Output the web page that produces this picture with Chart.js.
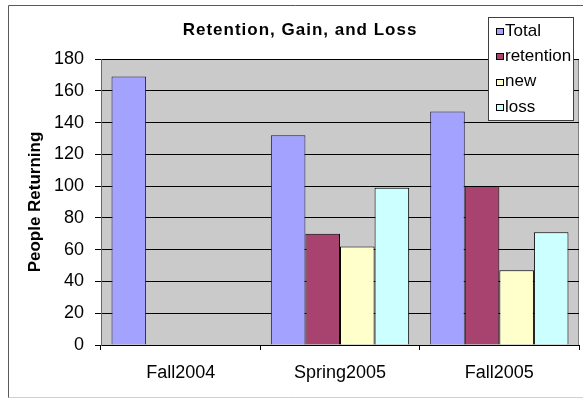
<!DOCTYPE html>
<html>
<head>
<meta charset="utf-8">
<script src="https://cdn.jsdelivr.net/npm/chart.js@4/dist/chart.umd.min.js"></script>
<style>
  html, body { margin: 0; padding: 0; background: #fff; }
  #wrap { width: 583px; height: 400px; position: relative; }
</style>
</head>
<body>
<div id="wrap"><canvas id="c" width="583" height="400"></canvas></div>
<script>
const categories = ['Fall2004', 'Spring2005', 'Fall2005'];
const seriesNames = ['Total', 'retention', 'new', 'loss'];
const totalValues = [169, 132, 147];
const retentionValues = [null, 70, 100];
const newValues = [null, 62, 47];
const lossValues = [null, 99, 71];
const yTicks = [0, 20, 40, 60, 80, 100, 120, 140, 160, 180];
const chartTitle = 'Retention, Gain, and Loss';
const yAxisTitle = 'People Returning';

const FONT = "'Liberation Sans', Arial, Helvetica, sans-serif";
const colors = ['#A3A3FF', '#A8426F', '#FFFFCC', '#CCFFFF'];
const borders = ['#1a1a40', '#000000', '#000000', '#000000'];
const values = [totalValues, retentionValues, newValues, lossValues];

const frameAndBg = {
  id: 'frameAndBg',
  beforeDraw(chart) {
    const ctx = chart.ctx, a = chart.chartArea;
    ctx.save();
    ctx.fillStyle = '#ffffff';
    ctx.fillRect(0, 0, chart.width, chart.height);
    // outer frame
    ctx.strokeStyle = '#5a5a5a';
    ctx.lineWidth = 1;
    ctx.beginPath();
    ctx.moveTo(8.5, 398);
    ctx.lineTo(8.5, 5.5);
    ctx.lineTo(chart.width, 5.5);
    ctx.stroke();
    ctx.strokeStyle = '#d0d0d0';
    ctx.beginPath();
    ctx.moveTo(8.5, 397.5);
    ctx.lineTo(chart.width, 397.5);
    ctx.stroke();
    // plot area
    ctx.fillStyle = '#CACACA';
    ctx.fillRect(a.left, a.top, a.right - a.left, a.bottom - a.top);
    ctx.strokeStyle = '#808080';
    ctx.beginPath();
    ctx.moveTo(a.right - 0.5, a.top);
    ctx.lineTo(a.right - 0.5, a.bottom);
    ctx.stroke();
    ctx.restore();
  },
  afterDraw(chart) {
    const ctx = chart.ctx;
    ctx.save();
    // title
    ctx.fillStyle = '#000';
    ctx.font = 'bold 17px ' + FONT;
    if ('letterSpacing' in ctx) ctx.letterSpacing = '1px';
    ctx.textAlign = 'center';
    ctx.textBaseline = 'middle';
    ctx.fillText(chartTitle, 300, 30);
    if ('letterSpacing' in ctx) ctx.letterSpacing = '0px';
    // legend
    const lx = 488.5, ly = 17.5, lw = 85, lh = 103;
    ctx.fillStyle = '#ffffff';
    ctx.fillRect(lx, ly, lw, lh);
    ctx.strokeStyle = '#404040';
    ctx.lineWidth = 1;
    ctx.strokeRect(lx, ly, lw, lh);
    ctx.font = '17px ' + FONT;
    ctx.textAlign = 'left';
    ctx.textBaseline = 'middle';
    chart.data.datasets.forEach((ds, i) => {
      const cy = 31 + i * 25.3;
      ctx.fillStyle = ds.backgroundColor;
      ctx.fillRect(496, Math.round(cy) - 3, 8, 7);
      ctx.strokeStyle = '#000';
      ctx.strokeRect(496.5, Math.round(cy) - 2.5, 7, 6);
      ctx.fillStyle = '#000';
      ctx.fillText(ds.label, 505, cy);
    });
    ctx.restore();
  }
};

new Chart(document.getElementById('c'), {
  type: 'bar',
  data: {
    labels: categories,
    datasets: seriesNames.map((name, i) => ({
      label: name,
      data: values[i],
      backgroundColor: colors[i],
      borderColor: borders[i],
      borderWidth: 1,
      borderSkipped: 'bottom',
      categoryPercentage: 0.868,
      barPercentage: 1.0
    }))
  },
  options: {
    responsive: false,
    animation: false,
    devicePixelRatio: 1,
    layout: { padding: { left: 20, right: 4, top: 59, bottom: 0 } },
    plugins: {
      legend: { display: false },
      title: { display: false },
      tooltip: { enabled: false }
    },
    scales: {
      x: {
        type: 'category',
        offset: true,
        grid: {
          display: true,
          offset: true,
          drawOnChartArea: false,
          drawTicks: true,
          tickLength: 5,
          color: '#000',
          tickColor: '#000'
        },
        border: { display: true, color: '#000', width: 1 },
        ticks: {
          color: '#000',
          font: { family: FONT, size: 18 },
          padding: 12,
          maxRotation: 0
        },
        afterFit(scale) { scale.height = 55; }
      },
      y: {
        min: 0,
        max: 180,
        afterBuildTicks(scale) { scale.ticks = yTicks.map(v => ({ value: v })); },
        grid: {
          color: '#000',
          tickColor: '#000',
          tickLength: 6,
          drawTicks: true
        },
        border: { display: true, color: '#666', width: 1 },
        ticks: {
          color: '#000',
          font: { family: FONT, size: 18 },
          padding: 11
        },
        title: {
          display: true,
          text: yAxisTitle,
          color: '#000',
          font: { family: FONT, size: 17, weight: 'bold' },
          padding: { top: 5, bottom: 0 }
        },
        afterFit(scale) { scale.width = 81; }
      }
    }
  },
  plugins: [frameAndBg]
});
</script>
</body>
</html>
